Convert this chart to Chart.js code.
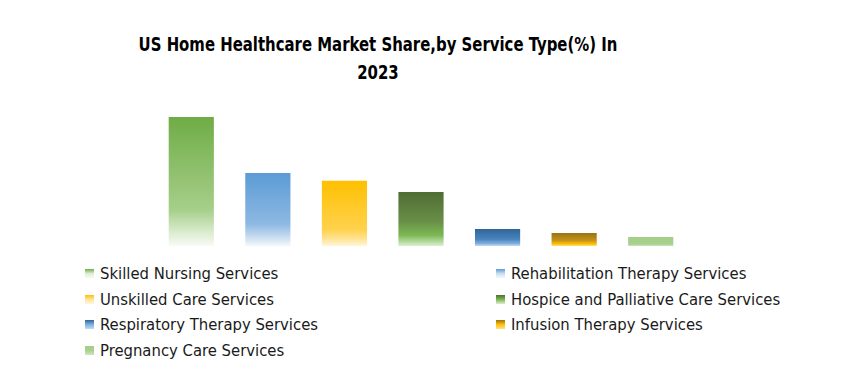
<!DOCTYPE html>
<html>
<head>
<meta charset="utf-8">
<script src="https://cdn.jsdelivr.net/npm/chart.js@4"></script>
<style>
  html, body { margin: 0; padding: 0; background: #fff; }
  #wrap { position: relative; width: 861px; height: 389px; overflow: hidden; }
  #title {
    position: absolute; left: 78px; top: 31px; width: 600px;
    text-align: center; font-family: "DejaVu Sans", sans-serif; font-stretch: condensed;
    font-weight: bold; font-size: 19.5px; line-height: 28px; color: #000; white-space: nowrap;
    transform: scaleX(0.85); transform-origin: 300px 0;
  }
  #chart-box { position: absolute; left: 0; top: 0; width: 861px; height: 260px; }
  #legend {
    position: absolute; left: 85px; top: 261px; width: 760px;
    display: grid; grid-template-columns: 411px 340px; row-gap: 0;
    font-family: "DejaVu Sans", sans-serif; font-stretch: condensed;
    font-size: 16.5px; color: #1a1a1a;
  }
  .item { display: flex; align-items: center; height: 25.6px; white-space: nowrap; }
  .swatch { width: 9px; height: 9px; margin-right: 6px; flex-shrink: 0; }
</style>
</head>
<body>
<div id="wrap">
  <div id="title">US Home Healthcare Market Share,by Service Type(%) In<br>2023</div>
  <div id="chart-box"><canvas id="chart"></canvas></div>
  <div id="legend"></div>
</div>
<script>
// Data
const categories = [
  'Skilled Nursing Services',
  'Rehabilitation Therapy Services',
  'Unskilled Care Services',
  'Hospice and Palliative Care Services',
  'Respiratory Therapy Services',
  'Infusion Therapy Services',
  'Pregnancy Care Services'
];
const shares = [35.8, 20.3, 18.1, 15.0, 4.7, 3.6, 2.5];

// Gradient stops per bar, top -> bottom
const gradients = [
  [[0, '#6FAC46'], [0.72, '#A6CF8A'], [0.9, '#DCEDD1'], [1, '#F7FBF4']],
  [[0, '#5B9BD5'], [0.7, '#8DB9E2'], [0.88, '#C9DDF1'], [1, '#F4F8FC']],
  [[0, '#FFC000'], [0.75, '#FFD24D'], [0.9, '#FFE49A'], [1, '#FFF6DD']],
  [[0, '#4F6D34'], [0.55, '#6A8F48'], [0.8, '#7BB853'], [1, '#DCEFD0']],
  [[0, '#2F6699'], [0.6, '#4A84BE'], [0.85, '#7EAEDD'], [1, '#C4DBF0']],
  [[0, '#9A7414'], [0.55, '#C0901A'], [0.85, '#FFC000'], [1, '#FFE08A']],
  [[0, '#A4CE88'], [0.8, '#A9D18E'], [1, '#CFE6C0']]
];

function barGradient(context) {
  const chart = context.chart;
  const { ctx, chartArea, scales } = chart;
  const stops = gradients[context.dataIndex];
  if (!chartArea || !scales.y) return stops[0][1];
  const top = scales.y.getPixelForValue(shares[context.dataIndex]);
  const base = scales.y.getPixelForValue(0);
  const g = ctx.createLinearGradient(0, top, 0, base);
  stops.forEach(([p, c]) => g.addColorStop(p, c));
  return g;
}

new Chart(document.getElementById('chart').getContext('2d'), {
  type: 'bar',
  data: {
    labels: categories,
    datasets: [{
      data: shares,
      backgroundColor: barGradient,
      borderWidth: 0,
      categoryPercentage: 1,
      barPercentage: 0.59
    }]
  },
  options: {
    responsive: true,
    maintainAspectRatio: false,
    animation: false,
    layout: { padding: { left: 153, right: 172, top: 102, bottom: 14 } },
    plugins: { legend: { display: false }, tooltip: { enabled: false } },
    scales: {
      x: { display: false, offset: true },
      y: { display: false, min: 0, max: 40 }
    }
  }
});

// HTML legend, two columns
document.getElementById('legend').innerHTML = categories.map((name, i) => {
  const st = gradients[i];
  const bg = `linear-gradient(${st[0][1]}, ${st[Math.floor(st.length / 2)][1]}, ${st[st.length - 1][1]})`;
  return `<div class="item"><span class="swatch" style="background:${bg}"></span>${name}</div>`;
}).join('');
</script>
</body>
</html>
